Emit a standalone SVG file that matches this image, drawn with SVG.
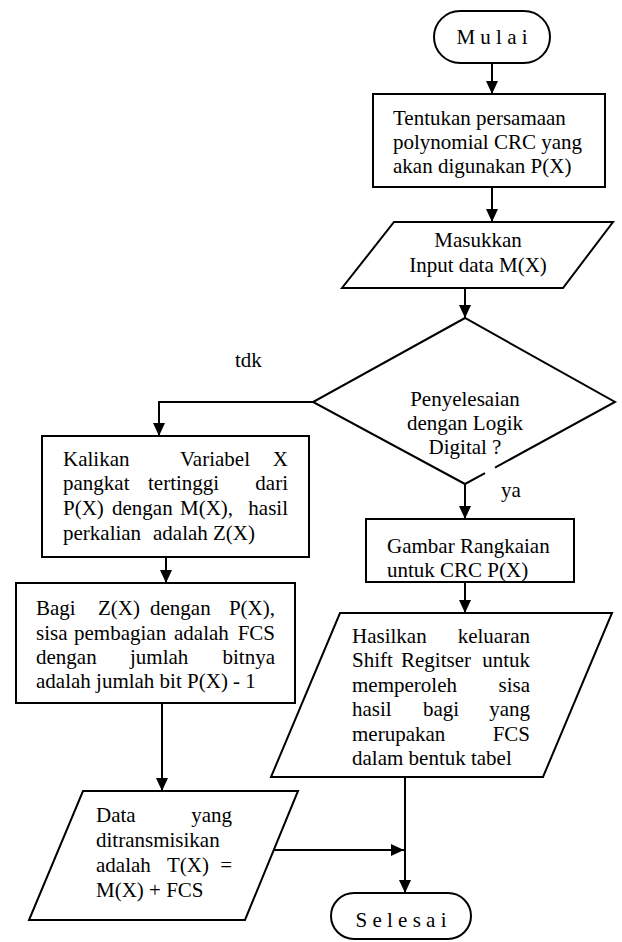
<svg xmlns="http://www.w3.org/2000/svg" width="622" height="942" viewBox="0 0 622 942">
<style>
.s{fill:#fff;stroke:#000;stroke-width:2}
.c{fill:none;stroke:#000;stroke-width:2}
text{font-family:"Liberation Serif","Times New Roman",serif;font-size:21px;fill:#000}
.m{text-anchor:middle}
.e{text-anchor:end}
</style>
<defs>
<marker id="ah" viewBox="0 0 13 12" refX="13" refY="6" markerWidth="13" markerHeight="12" markerUnits="userSpaceOnUse" orient="auto">
<path d="M0,0 L13,6 L0,12 z" fill="#000"/>
</marker>
</defs>
<rect width="622" height="942" fill="#fff"/>

<g id="connectors">
<line class="c" x1="492" y1="64" x2="492" y2="94" marker-end="url(#ah)"/>
<line class="c" x1="492" y1="187" x2="492" y2="222" marker-end="url(#ah)"/>
<line class="c" x1="465" y1="288" x2="465" y2="318" marker-end="url(#ah)"/>
<polyline class="c" points="313,402 159,402 159,436" marker-end="url(#ah)"/>
<line class="c" x1="465" y1="484" x2="465" y2="519" marker-end="url(#ah)"/>
<line class="c" x1="465" y1="582" x2="465" y2="613" marker-end="url(#ah)"/>
<line class="c" x1="166" y1="557" x2="166" y2="583" marker-end="url(#ah)"/>
<line class="c" x1="162" y1="703" x2="162" y2="791" marker-end="url(#ah)"/>
<line class="c" x1="405" y1="777" x2="405" y2="893" marker-end="url(#ah)"/>
<line class="c" x1="274" y1="850" x2="404" y2="850" marker-end="url(#ah)"/>
<text x="235" y="367">tdk</text>
<text x="501" y="497">ya</text>
</g>

<g id="mulai">
<rect class="s" x="434" y="11" width="116" height="52" rx="26"/>
<text class="m" x="492" y="44">M u l a i</text>
</g>

<g id="tentukan">
<rect class="s" x="373" y="94" width="232" height="93"/>
<text x="393" y="125">Tentukan persamaan</text>
<text x="393" y="149">polynomial CRC yang</text>
<text x="393" y="173">akan digunakan P(X)</text>
</g>

<g id="masukkan">
<polygon class="s" points="394,222 613,222 563,288 342,288"/>
<text class="m" x="478" y="247">Masukkan</text>
<text class="m" x="478" y="272">Input data M(X)</text>
</g>

<g id="keputusan">
<path class="c" d="M495,467.6 L615,402 L465,318 L313,402 L465,484 L485,473.1"/>
<text class="m" x="465" y="406">Penyelesaian</text>
<text class="m" x="465" y="430">dengan Logik</text>
<text class="m" x="465" y="454">Digital ?</text>
</g>

<g id="kalikan">
<rect class="s" x="42" y="436" width="267" height="121"/>
<text x="63" y="466">Kalikan</text>
<text x="180" y="466">Variabel</text>
<text class="e" x="288" y="466">X</text>
<text x="63" y="490">pangkat</text>
<text x="148" y="490">tertinggi</text>
<text class="e" x="288" y="490">dari</text>
<text x="63" y="515">P(X)</text>
<text x="112" y="515">dengan</text>
<text x="180" y="515">M(X),</text>
<text class="e" x="288" y="515">hasil</text>
<text x="63" y="540">perkalian</text>
<text x="153" y="540">adalah Z(X)</text>
</g>

<g id="bagi">
<rect class="s" x="16" y="583" width="279" height="120"/>
<text x="36" y="615">Bagi</text>
<text x="98" y="615">Z(X)</text>
<text x="150" y="615">dengan</text>
<text class="e" x="275" y="615">P(X),</text>
<text x="36" y="640">sisa</text>
<text x="74" y="640">pembagian</text>
<text x="174" y="640">adalah</text>
<text class="e" x="275" y="640">FCS</text>
<text x="36" y="664">dengan</text>
<text x="130" y="664">jumlah</text>
<text class="e" x="275" y="664">bitnya</text>
<text x="36" y="688">adalah jumlah bit P(X) - 1</text>
</g>

<g id="data">
<polygon class="s" points="83,791 298,791 245,920 29,920"/>
<text x="96" y="822">Data</text>
<text class="e" x="232" y="822">yang</text>
<text x="96" y="847">ditransmisikan</text>
<text x="96" y="872">adalah</text>
<text x="167" y="872">T(X)</text>
<text class="e" x="232" y="872">=</text>
<text x="96" y="897">M(X) + FCS</text>
</g>

<g id="gambar">
<rect class="s" x="366" y="519" width="208" height="63"/>
<text x="387" y="553">Gambar Rangkaian</text>
<text x="387" y="577">untuk CRC P(X)</text>
</g>

<g id="hasilkan">
<polygon class="s" points="340,613 612,613 543,777 271,777"/>
<text x="352" y="643">Hasilkan</text>
<text class="e" x="530" y="643">keluaran</text>
<text x="352" y="667">Shift</text>
<text x="401" y="667">Regitser</text>
<text class="e" x="530" y="667">untuk</text>
<text x="352" y="692">memperoleh</text>
<text class="e" x="530" y="692">sisa</text>
<text x="352" y="716">hasil</text>
<text x="423" y="716">bagi</text>
<text class="e" x="530" y="716">yang</text>
<text x="352" y="741">merupakan</text>
<text class="e" x="530" y="741">FCS</text>
<text x="352" y="765">dalam bentuk tabel</text>
</g>

<g id="selesai">
<rect class="s" x="331" y="893" width="140" height="46" rx="23"/>
<text class="m" x="401" y="927">S e l e s a i</text>
</g>
</svg>
